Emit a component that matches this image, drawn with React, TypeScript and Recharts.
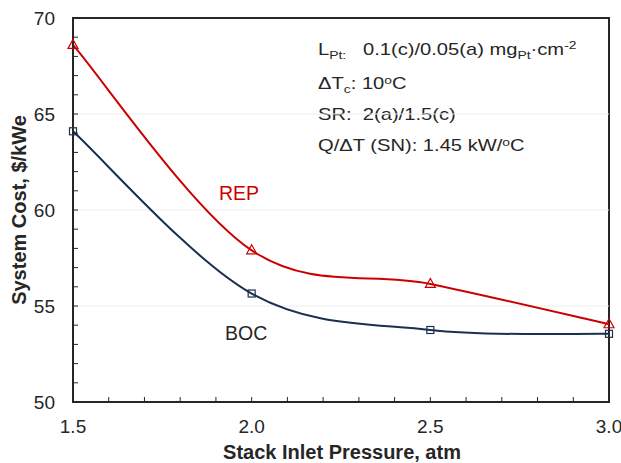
import React from "react";
import {
  LineChart,
  Line,
  XAxis,
  YAxis,
  ReferenceLine,
  ReferenceArea,
  Customized,
} from "recharts";

const pressures = [1.5, 2.0, 2.5, 3.0];
const repCost = [68.6, 57.9, 56.15, 54.05];
const bocCost = [64.1, 55.65, 53.75, 53.55];

const xTicks = [1.5, 1.6, 1.7, 1.8, 1.9, 2.0, 2.1, 2.2, 2.3, 2.4, 2.5, 2.6, 2.7, 2.8, 2.9, 3.0];
const xLabels = [1.5, 2.0, 2.5, 3.0];
const yTicks = [50, 51, 52, 53, 54, 55, 56, 57, 58, 59, 60, 61, 62, 63, 64, 65, 66, 67, 68, 69, 70];
const yLabels = [50, 55, 60, 65, 70];
const gridLines = [55, 60, 65];

const data = pressures.map((p, i) => ({ p, rep: repCost[i], boc: bocCost[i] }));

const RED = "#cc0000";
const NAVY = "#1b2f4f";
const INK = "#262626";
const FONT = "Arial, 'Liberation Sans', sans-serif";

// excel-like smoothed line (catmull-rom as cubic bezier)
const smoothCurve = (context: any) => {
  let pts: number[][] = [];
  return {
    areaStart() {},
    areaEnd() {},
    lineStart() {
      pts = [];
    },
    point(x: number, y: number) {
      pts.push([+x, +y]);
    },
    lineEnd() {
      const n = pts.length;
      if (!n) return;
      context.moveTo(pts[0][0], pts[0][1]);
      for (let i = 0; i < n - 1; i++) {
        const p0 = pts[Math.max(i - 1, 0)];
        const p1 = pts[i];
        const p2 = pts[i + 1];
        const p3 = pts[Math.min(i + 2, n - 1)];
        context.bezierCurveTo(
          p1[0] + (p2[0] - p0[0]) / 6,
          p1[1] + (p2[1] - p0[1]) / 6,
          p2[0] - (p3[0] - p1[0]) / 6,
          p2[1] - (p3[1] - p1[1]) / 6,
          p2[0],
          p2[1]
        );
      }
    },
  };
};

const TriangleDot = (props: any) => {
  const { cx, cy } = props;
  return (
    <polygon
      points={`${cx},${cy - 5.5} ${cx - 5},${cy + 3.5} ${cx + 5},${cy + 3.5}`}
      fill="none"
      stroke={RED}
      strokeWidth={1.2}
    />
  );
};

const SquareDot = (props: any) => {
  const { cx, cy } = props;
  return <rect x={cx - 3.5} y={cy - 3.5} width={7} height={7} fill="none" stroke={NAVY} strokeWidth={1.2} />;
};

const YTick = (props: any) => {
  const { x, y, payload } = props;
  const v = payload.value;
  return (
    <g>
      <line x1={x} x2={x + 5} y1={y} y2={y} stroke={INK} strokeWidth={1} />
      {yLabels.includes(v) && (
        <text x={x - 18} y={y + 7} textAnchor="end" fontSize={19} fill={INK} fontFamily={FONT}>
          {v}
        </text>
      )}
    </g>
  );
};

const XTick = (props: any) => {
  const { x, y, payload } = props;
  const v = payload.value;
  return (
    <g>
      <line x1={x} x2={x} y1={y} y2={y - 5} stroke={INK} strokeWidth={1} />
      {xLabels.some((l) => Math.abs(l - v) < 1e-6) && (
        <text x={x} y={y + 31} textAnchor="middle" fontSize={19} fill={INK} fontFamily={FONT}>
          {v.toFixed(1)}
        </text>
      )}
    </g>
  );
};

// the note box text is wide and flat in the source, so stretch it sideways
const NoteLine = ({ y, children }: { y: number; children: React.ReactNode }) => (
  <text transform={`translate(318,${y}) scale(1.26,1)`} x={0} y={0} fontSize={16} style={{ whiteSpace: "pre" }}>
    {children}
  </text>
);

const Notes = () => (
  <g fontFamily={FONT} fill={INK}>
    <NoteLine y={55}>
      L
      <tspan fontSize={11} dy={4}>Pt:</tspan>
      <tspan dy={-4}>{"   0.1(c)/0.05(a) mg"}</tspan>
      <tspan fontSize={11} dy={4}>Pt</tspan>
      <tspan dy={-4}>·cm</tspan>
      <tspan fontSize={11} dy={-6}>-2</tspan>
    </NoteLine>
    <NoteLine y={89}>
      ΔT
      <tspan fontSize={11} dy={4}>c</tspan>
      <tspan dy={-4}>: 10</tspan>
      <tspan fontSize={11} dy={-5}>o</tspan>
      <tspan dy={5}>C</tspan>
    </NoteLine>
    <NoteLine y={120}>{"SR:  2(a)/1.5(c)"}</NoteLine>
    <NoteLine y={151}>
      Q/ΔT (SN): 1.45 kW/
      <tspan fontSize={11} dy={-5}>o</tspan>
      <tspan dy={5}>C</tspan>
    </NoteLine>
    <text x={219} y={200} fill={RED} fontSize={19.5}>REP</text>
    <text x={225} y={340} fontSize={19.5}>BOC</text>
    <text x={342} y={459} textAnchor="middle" fontSize={20} fontWeight="bold">
      Stack Inlet Pressure, atm
    </text>
    <text
      x={0}
      y={0}
      transform="translate(26,210) rotate(-90)"
      textAnchor="middle"
      fontSize={20}
      fontWeight="bold"
    >
      System Cost, $/kWe
    </text>
  </g>
);

export default function App() {
  return (
    <div style={{ position: "absolute", left: 0, top: 0, width: 621, height: 463, background: "#fff" }}>
      <LineChart width={621} height={463} data={data} margin={{ top: 18, right: 12, bottom: 0, left: 0 }}>
        {gridLines.map((g) => (
          <ReferenceLine key={g} y={g} stroke="#ececec" strokeWidth={1} />
        ))}
        <XAxis
          dataKey="p"
          type="number"
          domain={[1.5, 3]}
          ticks={xTicks}
          interval={0}
          height={61}
          tickSize={0}
          tickMargin={0}
          tickLine={false}
          axisLine={{ stroke: INK, strokeWidth: 2 }}
          tick={<XTick />}
        />
        <YAxis
          type="number"
          domain={[50, 70]}
          ticks={yTicks}
          interval={0}
          width={73}
          tickSize={0}
          tickMargin={0}
          tickLine={false}
          axisLine={{ stroke: INK, strokeWidth: 2 }}
          tick={<YTick />}
        />
        <ReferenceArea x1={1.5} x2={3} y1={50} y2={70} fill="none" stroke={INK} strokeWidth={2} />
        <Line
          dataKey="boc"
          type={smoothCurve as any}
          stroke={NAVY}
          strokeWidth={2}
          dot={<SquareDot />}
          isAnimationActive={false}
        />
        <Line
          dataKey="rep"
          type={smoothCurve as any}
          stroke={RED}
          strokeWidth={2}
          dot={<TriangleDot />}
          isAnimationActive={false}
        />
        <Customized component={<Notes />} />
      </LineChart>
    </div>
  );
}
